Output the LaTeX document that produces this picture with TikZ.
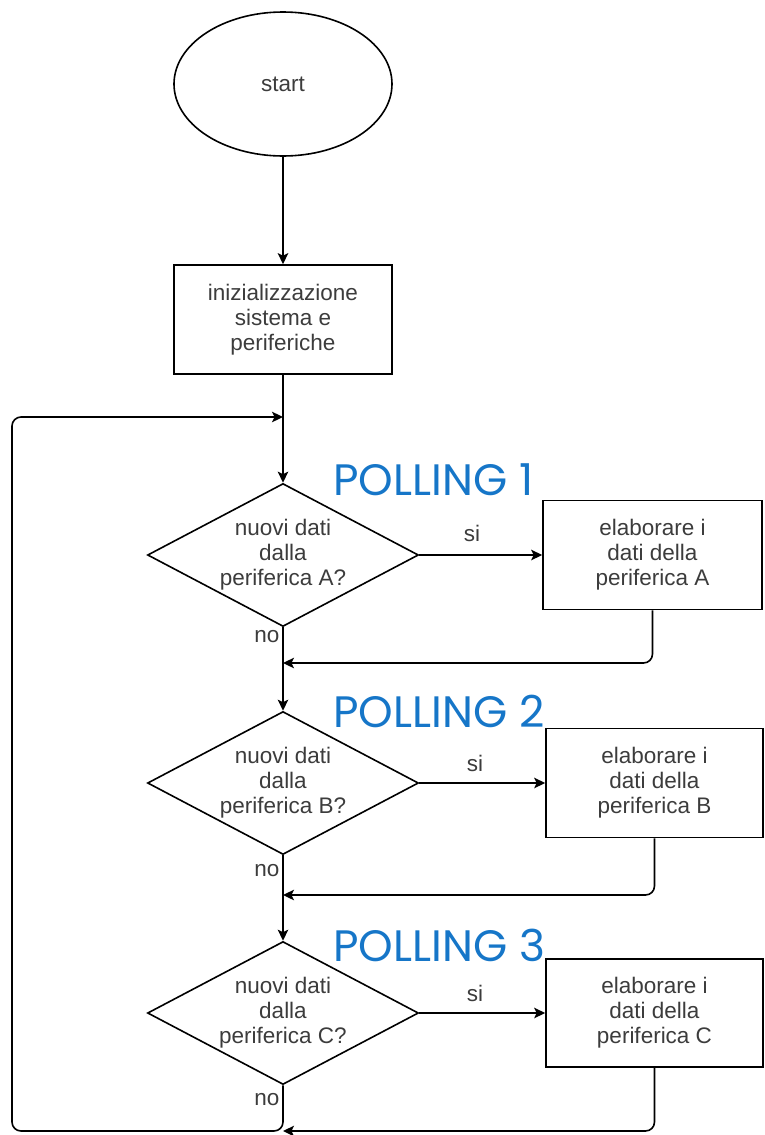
\documentclass[tikz,border=0pt]{standalone}
\usepackage{fontspec}
\setmainfont{Liberation Sans}
\newfontfamily\pollfont{Poppins}
\usetikzlibrary{shapes.geometric,arrows.meta}
\definecolor{txt}{RGB}{60,60,60}
\definecolor{pollblue}{RGB}{22,118,200}
\begin{document}
\begin{tikzpicture}[x=1pt,y=-1pt,
  every node/.style={font=\fontsize{22.5}{25}\selectfont, text=txt},
  ln/.style={draw=black, line width=1.6pt},
  arr/.style={ln, -{Stealth[length=11pt,width=10.5pt,inset=2.5pt]}},
  startbox/.style={ln, ellipse, minimum width=218pt, minimum height=144pt, inner sep=0pt},
  procbox/.style={ln, rectangle, minimum width=218pt, minimum height=109pt, inner sep=0pt, align=center},
  decbox/.style={ln, diamond, shape aspect=1.9, minimum width=271pt, minimum height=143pt, inner sep=0pt, align=center},
  lbl/.style={inner sep=0pt},
  poll/.style={anchor=base west, inner sep=0pt, text=pollblue, font=\pollfont\fontsize{44}{44}\selectfont}
]
\useasboundingbox (0,0) rectangle (764,1135);

\node[startbox] (start) at (283,84) {start};
\node[procbox] (init) at (283,319.5) {inizializzazione\\sistema e\\periferiche};

\node[decbox] (dA) at (283,555) {nuovi dati\\dalla\\periferica A?};
\node[procbox, minimum width=219pt] (rA) at (652.5,555) {elaborare i\\dati della\\periferica A};

\node[decbox] (dB) at (283,783) {nuovi dati\\dalla\\periferica B?};
\node[procbox, minimum width=217pt] (rB) at (654.5,783) {elaborare i\\dati della\\periferica B};

\node[decbox] (dC) at (283,1013) {nuovi dati\\dalla\\periferica C?};
\node[procbox, minimum width=217pt, minimum height=108pt] (rC) at (654.5,1013) {elaborare i\\dati della\\periferica C};

\node[poll] (p1) at (333,495) {POLLING 1};
\node[poll] (p2) at (333,727) {POLLING 2};
\node[poll] (p3) at (333,961) {POLLING 3};

\coordinate (mLoop) at (283,417);
\coordinate (mA) at (283,663);
\coordinate (mB) at (283,895);
\coordinate (mC) at (283,1131);

% main flow
\draw[arr] (start.south) -- (init.north);
\draw[arr] (init.south) -- (dA.north);
\draw[arr] (dA.south) -- (dB.north);
\draw[arr] (dB.south) -- (dC.north);

% yes branches
\draw[arr] (dA.east) -- (rA.west);
\draw[arr] (dB.east) -- (rB.west);
\draw[arr] (dC.east) -- (rC.west);

% returns
\draw[arr, rounded corners=9pt] (rA.south) |- (mA);
\draw[arr, rounded corners=9pt] (rB.south) |- (mB);
\draw[arr, rounded corners=9pt] (rC.south) |- (mC);

% loop back
\draw[arr, rounded corners=9pt] (dC.south) -- (mC) -- (12,1131) -- (12,417) -- (mLoop);

% labels
\node[lbl] (siA) at (472,533) {si};
\node[lbl] (siB) at (475,763) {si};
\node[lbl] (siC) at (475,993) {si};
\node[lbl] (noA) at (267,637) {no};
\node[lbl] (noB) at (267,871) {no};
\node[lbl] (noC) at (267,1100) {no};
\end{tikzpicture}
\end{document}
